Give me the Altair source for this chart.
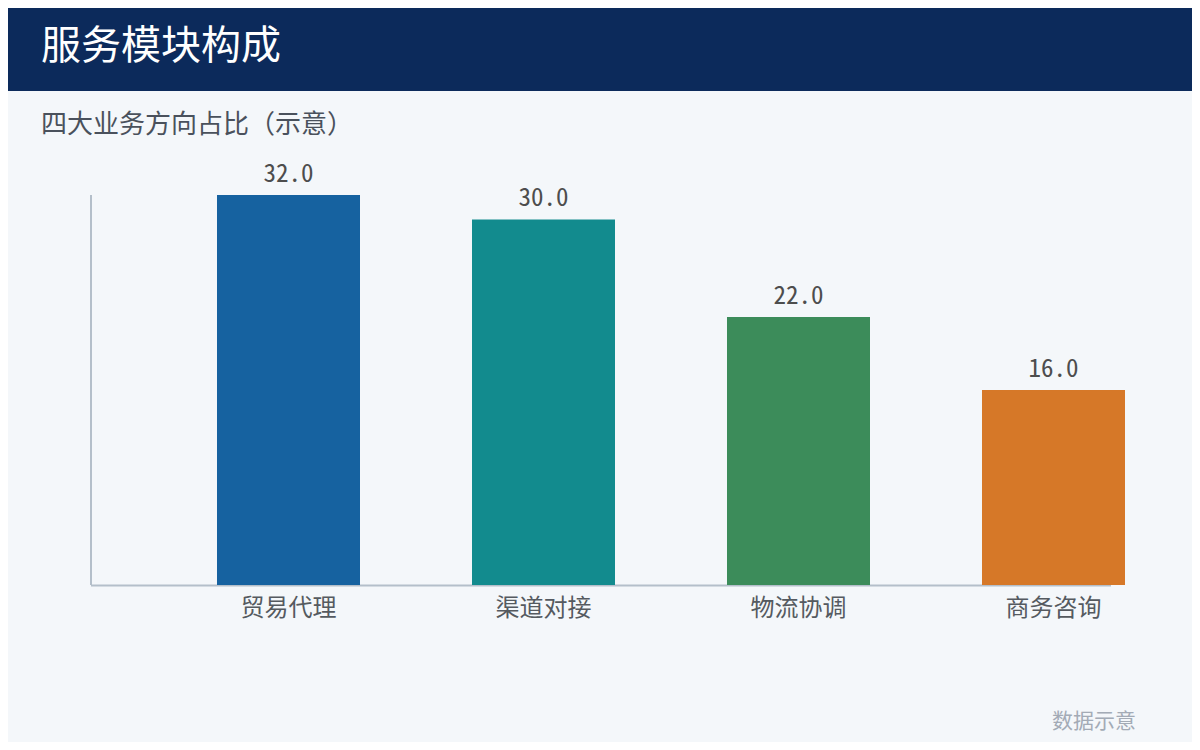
import altair as alt
import pandas as pd

categories = ["贸易代理", "渠道对接", "物流协调", "商务咨询"]
values = [32.0, 30.0, 22.0, 16.0]
bar_colors = ["#1662a0", "#128b8e", "#3c8c5a", "#d67828"]

title_text = "服务模块构成"
subtitle_text = "四大业务方向占比（示意）"
note_text = "数据示意"

df = pd.DataFrame({"cat": categories, "val": values})
df["label"] = [f"{v:.1f}" for v in values]

W, H = 1184, 734
xscale = alt.Scale(domain=categories, range=[153, 1173], paddingInner=0.4392, paddingOuter=0.2196)
yscale = alt.Scale(domain=[0, 32], range=[577, 187], nice=False, zero=True)
cscale = alt.Scale(domain=categories, range=bar_colors)

X = alt.X("cat:N", scale=xscale, axis=None, sort=categories)
Y = alt.Y("val:Q", scale=yscale, axis=None)

base = alt.Chart(df)

header = alt.Chart(pd.DataFrame({"a": [0]})).mark_rect(color="#0c2a5b").encode(
    x=alt.value(0), x2=alt.value(W), y=alt.value(0), y2=alt.value(83)
)
title = alt.Chart(pd.DataFrame({"t": [title_text]})).mark_text(
    font="Noto Sans CJK SC", fontSize=40, color="#ffffff", align="left", baseline="middle"
).encode(x=alt.value(33), y=alt.value(39), text="t:N")
subtitle = alt.Chart(pd.DataFrame({"t": [subtitle_text]})).mark_text(
    font="Noto Sans CJK SC", fontSize=26, color="#4a515c", align="left", baseline="middle"
).encode(x=alt.value(33), y=alt.value(117), text="t:N")
note = alt.Chart(pd.DataFrame({"t": [note_text]})).mark_text(
    font="Noto Sans CJK SC", fontSize=21, color="#a3abb6", align="center", baseline="middle"
).encode(x=alt.value(1086), y=alt.value(714), text="t:N")

yaxis = alt.Chart(pd.DataFrame({"a": [0]})).mark_rule(color="#b4bfca", strokeWidth=2).encode(
    x=alt.value(83), y=alt.value(187), y2=alt.value(577)
)
xaxis = alt.Chart(pd.DataFrame({"a": [0]})).mark_rule(color="#b4bfca", strokeWidth=2).encode(
    x=alt.value(83), x2=alt.value(1103), y=alt.value(577.5)
)

bars = base.mark_bar().encode(
    x=X, y=Y, color=alt.Color("cat:N", scale=cscale, legend=None)
)
vlabels = base.mark_text(
    font="Noto Sans Mono CJK SC", fontSize=25, color="#4d4d4d", baseline="alphabetic", dy=-13
).encode(x=X, y=Y, text="label:N")
clabels = base.mark_text(
    font="Noto Sans CJK SC", fontSize=24, color="#555a60", baseline="middle"
).encode(x=X, y=alt.value(601), text="cat:N")

chart = alt.layer(header, title, subtitle, xaxis, yaxis, bars, vlabels, clabels, note).properties(
    width=W, height=H,
    autosize=alt.AutoSizeParams(type="none"),
    padding=0,
    background="#f4f7fa",
).configure_view(stroke=None)

chart.save("out.html", embed_options={"renderer": "svg", "actions": False})
